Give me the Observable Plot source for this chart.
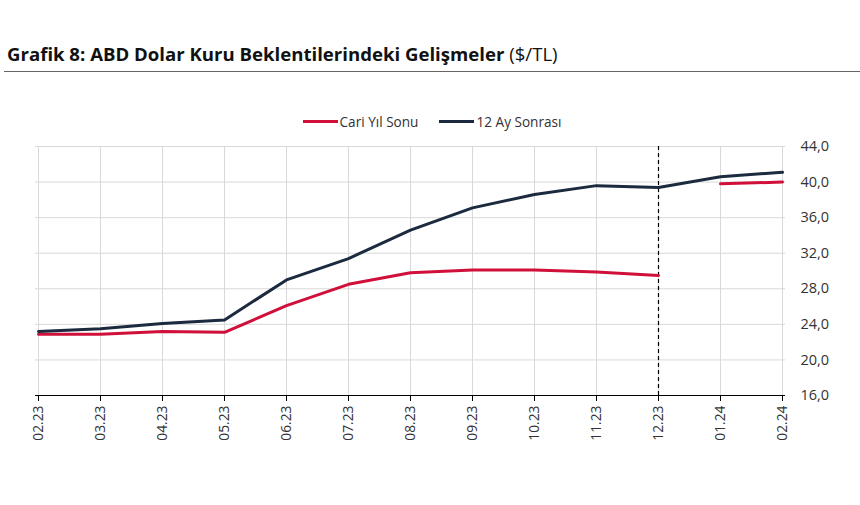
<!DOCTYPE html>
<html>
<head>
<meta charset="utf-8">
<script src="https://cdn.jsdelivr.net/npm/d3@7"></script>
<script src="https://cdn.jsdelivr.net/npm/@observablehq/plot@0.6"></script>
<style>
  body { margin: 0; background: #fff; font-family: "Open Sans", sans-serif; }
  #wrap { position: relative; width: 860px; height: 505px; overflow: hidden; }
  #title { position: absolute; left: 7px; top: 41px; font-size: 18.6px; color: #111; white-space: nowrap; }
  #title b { font-weight: 700; }
  #rule { position: absolute; left: 4px; right: 0; top: 71px; border-top: 1.5px solid #666; }
  #legend { position: absolute; top: 112px; left: 0; width: 860px; display: flex; justify-content: center; gap: 21px; font-size: 13.6px; color: #333; padding-left: 4px; box-sizing: border-box; }
  #legend span { display: inline-flex; align-items: center; }
  #legend i { display: inline-block; width: 35px; height: 3px; margin-right: 2px; }
  #chart { position: absolute; left: 0; top: 130px; }
</style>
</head>
<body>
<div id="wrap">
  <div id="title"><b>Grafik 8: ABD Dolar Kuru Beklentilerindeki Gelişmeler</b> ($/TL)</div>
  <div id="rule"></div>
  <div id="legend"></div>
  <div id="chart"></div>
</div>
<script>
const months = ["02.23","03.23","04.23","05.23","06.23","07.23","08.23","09.23","10.23","11.23","12.23","01.24","02.24"];
const cariYilSonu = [22.9, 22.9, 23.2, 23.1, 26.1, 28.5, 29.8, 30.1, 30.1, 29.9, 29.5, 39.8, 40.0];
const onIkiAySonrasi = [23.2, 23.5, 24.1, 24.5, 29.0, 31.4, 34.6, 37.1, 38.6, 39.6, 39.4, 40.6, 41.1];
const seriesNames = ["Cari Yıl Sonu", "12 Ay Sonrası"];
const seriesColors = ["#d0103a", "#1b2a3e"];
const yTicks = [16, 20, 24, 28, 32, 36, 40, 44];
const markerMonths = ["12.23"];

const rows = [];
months.forEach((m, i) => {
  rows.push({month: m, series: seriesNames[0], value: cariYilSonu[i], year: m.slice(3)});
  rows.push({month: m, series: seriesNames[1], value: onIkiAySonrasi[i], year: "all"});
});

const legend = document.getElementById("legend");
seriesNames.forEach((n, i) => {
  const s = document.createElement("span");
  s.innerHTML = `<i style="background:${seriesColors[i]}"></i>${n}`;
  legend.appendChild(s);
});

const fmt = d => d.toFixed(1).replace(".", ",");

const chart = Plot.plot({
  width: 860,
  height: 375,
  marginTop: 16,
  marginBottom: 110,
  marginLeft: 35,
  marginRight: 75,
  style: { fontFamily: "Open Sans, sans-serif", fontSize: "13px", color: "#333", background: "transparent" },
  x: { type: "point", domain: months, padding: 0 },
  y: { domain: [16, 44] },
  color: { domain: seriesNames, range: seriesColors },
  marks: [
    Plot.gridX(months, { stroke: "#d9d9d9", strokeOpacity: 1, strokeWidth: 1 }),
    Plot.gridY(yTicks, { stroke: "#d9d9d9", strokeOpacity: 1, strokeWidth: 1 }),
    Plot.axisY(yTicks, { anchor: "right", tickSize: 0, tickPadding: 15, tickFormat: fmt, label: null, fontSize: 14.5 }),
    Plot.axisX(months, { anchor: "bottom", tickSize: 6, tickPadding: 4, tickRotate: -90, stroke: "#000", label: null, fontSize: 13.8 }),
    Plot.ruleY([16], { stroke: "#000", strokeWidth: 1 }),
    Plot.ruleX(markerMonths, { stroke: "#000", strokeWidth: 1.2, strokeDasharray: "4,3" }),
    Plot.line(rows.filter(d => d.series === seriesNames[0]), { x: "month", y: "value", z: "year", stroke: "series", strokeWidth: 3 }),
    Plot.line(rows.filter(d => d.series === seriesNames[1]), { x: "month", y: "value", stroke: "series", strokeWidth: 3 })
  ]
});
document.getElementById("chart").appendChild(chart);
</script>
</body>
</html>
